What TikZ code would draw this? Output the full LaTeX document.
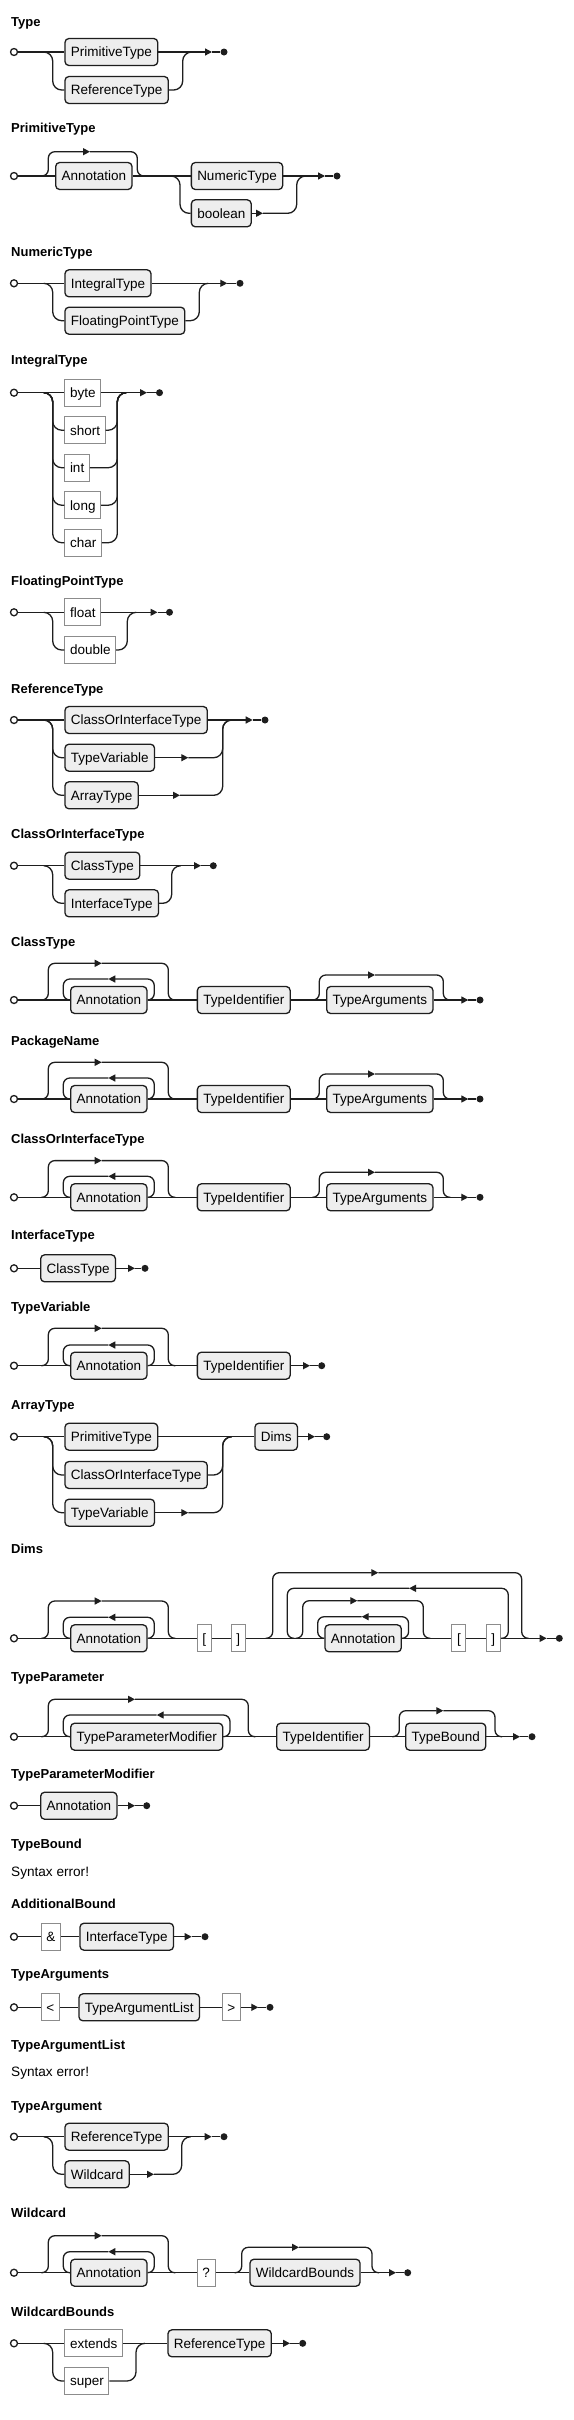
\documentclass[tikz,border=0pt]{standalone}
\usepackage{fontspec}
\setmainfont{Liberation Sans}
\usepackage{xcolor}
\usetikzlibrary{arrows.meta,positioning,calc}
\definecolor{railink}{HTML}{1E1E1E}
\definecolor{ntfill}{HTML}{EEEEEE}
\definecolor{tmedge}{HTML}{8C8C8C}
\tikzset{
  rail/.style={draw=railink,line width=1.3pt},
  alt/.style={rounded corners=9pt},
  loopc/.style={rounded corners=6.5pt},
  arr/.style={-{Triangle[length=7pt,width=7pt]}},
  nonterm/.style={draw=railink,fill=ntfill,line width=1.3pt,rounded corners=4pt,minimum height=27pt,
    inner xsep=5.9pt,inner ysep=0pt,text height=9.8pt,text depth=0pt,font=\fontsize{13.5}{16}\selectfont,anchor=west},
  term/.style={draw=tmedge,fill=white,line width=1pt,minimum height=27pt,
    inner xsep=5.2pt,inner ysep=0pt,text height=9.8pt,text depth=0pt,font=\fontsize{13.5}{16}\selectfont,anchor=west},
  title/.style={anchor=base west,inner sep=0pt,font=\fontsize{13}{16}\selectfont\bfseries},
  errtext/.style={anchor=base west,inner sep=0pt,font=\fontsize{13.6}{16}\selectfont},
  startc/.style={circle,draw=railink,fill=white,line width=1.3pt,minimum size=7pt,inner sep=0pt},
  endc/.style={circle,fill=railink,minimum size=7pt,inner sep=0pt}
}
\begin{document}
\begin{tikzpicture}[x=1pt,y=-1pt]
  \fill[white] (0,0) rectangle (573,2420);
  \useasboundingbox (0,0) rectangle (573,2420);

  \node[title] (type-t) at (11,26) {Type};
  \node[startc] (type-s) at (14,52) {};
  \coordinate (type-f) at (43.7,52);
  \node[nonterm] (type-prim) at (64.3,52) {PrimitiveType};
  \node[nonterm] (type-ref) at (64.3,90) {ReferenceType};
  \coordinate (type-m) at (191.7,52);
  \coordinate (type-a) at (212,52);
  \node[endc] (type-e) at (224,52) {};
  \draw[rail] (type-s) -- (type-prim);
  \draw[rail,arr] (type-prim) -- (type-a);
  \draw[rail] (type-a) -- (type-e);
  \draw[rail,alt] (type-f) -- ++(9,0) |- (type-ref);
  \draw[rail,alt] (type-ref) -| ([xshift=-9pt]type-m) -- (type-m);

  \node[title] (prim-t) at (11,132.7) {PrimitiveType};
  \node[startc] (prim-s) at (14,176) {};
  \coordinate (prim-f1) at (41.3,176);
  \node[nonterm] (prim-ann) at (55,176) {Annotation};
  \coordinate (prim-a1) at (90,151.7);
  \coordinate (prim-m1) at (144.3,176);
  \coordinate (prim-f2) at (171,176);
  \node[nonterm] (prim-num) at (190.7,176) {NumericType};
  \node[nonterm] (prim-bool) at (190.7,213.3) {boolean};
  \coordinate (prim-a2) at (263,213.3);
  \coordinate (prim-m2) at (305.7,176);
  \coordinate (prim-a) at (325,176);
  \node[endc] (prim-e) at (337,176) {};
  \draw[rail] (prim-s) -- (prim-ann);
  \draw[rail] (prim-ann) -- (prim-num);
  \draw[rail,arr] (prim-num) -- (prim-a);
  \draw[rail] (prim-a) -- (prim-e);
  \draw[rail,loopc,arr] (prim-f1) -- ++(7,0) |- (prim-a1);
  \draw[rail,loopc] (prim-a1) -| ([xshift=-7pt]prim-m1) -- (prim-m1);
  \draw[rail,alt] (prim-f2) -- ++(9,0) |- (prim-bool);
  \draw[rail,arr] (prim-bool) -- (prim-a2);
  \draw[rail,alt] (prim-a2) -| ([xshift=-9pt]prim-m2) -- (prim-m2);

  \node[title] (num-t) at (11,256) {NumericType};
  \node[startc] (num-s) at (14,283.3) {};
  \coordinate (num-f) at (43.7,283.3);
  \node[nonterm] (num-int) at (64.3,283.3) {IntegralType};
  \node[nonterm] (num-flt) at (64.3,320.7) {FloatingPointType};
  \coordinate (num-m) at (208.3,283.3);
  \coordinate (num-a) at (227.3,283.3);
  \node[endc] (num-e) at (240,283.3) {};
  \draw[rail] (num-s) -- (num-int);
  \draw[rail,arr] (num-int) -- (num-a);
  \draw[rail] (num-a) -- (num-e);
  \draw[rail,alt] (num-f) -- ++(9,0) |- (num-flt);
  \draw[rail,alt] (num-flt) -| ([xshift=-9pt]num-m) -- (num-m);

  \node[title] (intg-t) at (11,364) {IntegralType};
  \node[startc] (intg-s) at (14,392.7) {};
  \coordinate (intg-f) at (43.7,392.7);
  \node[term] (intg-1) at (64.3,392.7) {byte};
  \coordinate (intg-m) at (126.3,392.7);
  \coordinate (intg-a) at (147,392.7);
  \node[endc] (intg-e) at (159.5,392.7) {};
  \draw[rail] (intg-s) -- (intg-1);
  \draw[rail,arr] (intg-1) -- (intg-a);
  \draw[rail] (intg-a) -- (intg-e);
  \foreach \w/\yy/\k in {short/430.2/2,int/467.7/3,long/505.2/4,char/542.7/5} {
    \node[term] (intg-\k) at (64.3,\yy) {\w};
    \draw[rail,alt] (intg-f) -- ++(9,0) |- (intg-\k);
    \draw[rail,alt] (intg-\k) -| ([xshift=-9pt]intg-m) -- (intg-m);
  }

  \node[title] (flt-t) at (11,585) {FloatingPointType};
  \node[startc] (flt-s) at (14,612.3) {};
  \coordinate (flt-f) at (43.7,612.3);
  \node[term] (flt-1) at (64.3,612.3) {float};
  \node[term] (flt-2) at (64.3,650) {double};
  \coordinate (flt-m) at (136.3,612.3);
  \coordinate (flt-a) at (157.5,612.3);
  \node[endc] (flt-e) at (169.5,612.3) {};
  \draw[rail] (flt-s) -- (flt-1);
  \draw[rail,arr] (flt-1) -- (flt-a);
  \draw[rail] (flt-a) -- (flt-e);
  \draw[rail,alt] (flt-f) -- ++(9,0) |- (flt-2);
  \draw[rail,alt] (flt-2) -| ([xshift=-9pt]flt-m) -- (flt-m);

  \node[title] (ref-t) at (11,693.3) {ReferenceType};
  \node[startc] (ref-s) at (14,720) {};
  \coordinate (ref-f) at (43.7,720);
  \node[nonterm] (ref-coi) at (64.3,720) {ClassOrInterfaceType};
  \node[nonterm] (ref-tv) at (64.3,757.7) {TypeVariable};
  \node[nonterm] (ref-at) at (64.3,795.3) {ArrayType};
  \coordinate (ref-a2) at (188.3,757.7);
  \coordinate (ref-a3) at (180,795.3);
  \coordinate (ref-m) at (231.7,720);
  \coordinate (ref-a) at (252.7,720);
  \node[endc] (ref-e) at (265,720) {};
  \draw[rail] (ref-s) -- (ref-coi);
  \draw[rail,arr] (ref-coi) -- (ref-a);
  \draw[rail] (ref-a) -- (ref-e);
  \draw[rail,alt] (ref-f) -- ++(9,0) |- (ref-tv);
  \draw[rail,alt] (ref-f) -- ++(9,0) |- (ref-at);
  \draw[rail,arr] (ref-tv) -- (ref-a2);
  \draw[rail,arr] (ref-at) -- (ref-a3);
  \draw[rail,alt] (ref-a2) -| ([xshift=-9pt]ref-m) -- (ref-m);
  \draw[rail,alt] (ref-a3) -| ([xshift=-9pt]ref-m) -- (ref-m);

  \node[title] (coi-t) at (11,838.3) {ClassOrInterfaceType};
  \node[startc] (coi-s) at (14,865.7) {};
  \coordinate (coi-f) at (43.7,865.7);
  \node[nonterm] (coi-ct) at (64.3,865.7) {ClassType};
  \node[nonterm] (coi-it) at (64.3,903.3) {InterfaceType};
  \coordinate (coi-m) at (180.7,865.7);
  \coordinate (coi-a) at (201,865.7);
  \node[endc] (coi-e) at (213.3,865.7) {};
  \draw[rail] (coi-s) -- (coi-ct);
  \draw[rail,arr] (coi-ct) -- (coi-a);
  \draw[rail] (coi-a) -- (coi-e);
  \draw[rail,alt] (coi-f) -- ++(9,0) |- (coi-it);
  \draw[rail,alt] (coi-it) -| ([xshift=-9pt]coi-m) -- (coi-m);

  \foreach \k/\yy/\nm in {ct/1000/ClassType,pn/1099/PackageName,cn/1197.3/ClassOrInterfaceType} {
    \node[title] (\k-t) at (11,{\yy-54}) {\nm};
    \node[startc] (\k-s) at (14,\yy) {};
    \coordinate (\k-f1) at (41.3,\yy);
    \node[nonterm] (\k-ann) at (70,\yy) {Annotation};
    \coordinate (\k-a1) at (101.7,{\yy-36.7});
    \coordinate (\k-a2) at (108.3,{\yy-21});
    \coordinate (\k-m1) at (175.3,\yy);
    \node[nonterm] (\k-tid) at (196.7,\yy) {TypeIdentifier};
    \coordinate (\k-f2) at (312.3,\yy);
    \node[nonterm] (\k-targ) at (326,\yy) {TypeArguments};
    \coordinate (\k-a3) at (375,{\yy-25});
    \coordinate (\k-m2) at (450.3,\yy);
    \coordinate (\k-a) at (468.3,\yy);
    \node[endc] (\k-e) at (480,\yy) {};
    \draw[rail] (\k-s) -- (\k-ann);
    \draw[rail] (\k-ann) -- (\k-tid);
    \draw[rail] (\k-tid) -- (\k-targ);
    \draw[rail,arr] (\k-targ) -- (\k-a);
    \draw[rail] (\k-a) -- (\k-e);
    \draw[rail,loopc,arr] (\k-f1) -- ++(7,0) |- (\k-a1);
    \draw[rail,loopc] (\k-a1) -| ([xshift=-7pt]\k-m1) -- (\k-m1);
    \draw[rail,loopc,arr] (\k-ann.east) -- ++(6.6,0) |- (\k-a2);
    \draw[rail,loopc] (\k-a2) -| ([xshift=-6.7pt]\k-ann.west) -- (\k-ann.west);
    \draw[rail,loopc,arr] (\k-f2) -- ++(7,0) |- (\k-a3);
    \draw[rail,loopc] (\k-a3) -| ([xshift=-7pt]\k-m2) -- (\k-m2);
  }

  \node[title] (ift-t) at (11,1239.5) {InterfaceType};
  \node[startc] (ift-s) at (14,1268.3) {};
  \node[nonterm] (ift-ct) at (40,1268.3) {ClassType};
  \coordinate (ift-a) at (135,1268.3);
  \node[endc] (ift-e) at (145,1268.3) {};
  \draw[rail] (ift-s) -- (ift-ct);
  \draw[rail,arr] (ift-ct) -- (ift-a);
  \draw[rail] (ift-a) -- (ift-e);

  \node[title] (tv-t) at (11,1311) {TypeVariable};
  \node[startc] (tv-s) at (14,1365.7) {};
  \coordinate (tv-f1) at (41.3,1365.7);
  \node[nonterm] (tv-ann) at (70,1365.7) {Annotation};
  \coordinate (tv-a1) at (101.7,1328.3);
  \coordinate (tv-a2) at (108.3,1345);
  \coordinate (tv-m1) at (175.3,1365.7);
  \node[nonterm] (tv-tid) at (196.7,1365.7) {TypeIdentifier};
  \coordinate (tv-a) at (310,1365.7);
  \node[endc] (tv-e) at (321.7,1365.7) {};
  \draw[rail] (tv-s) -- (tv-ann);
  \draw[rail] (tv-ann) -- (tv-tid);
  \draw[rail,arr] (tv-tid) -- (tv-a);
  \draw[rail] (tv-a) -- (tv-e);
  \draw[rail,loopc,arr] (tv-f1) -- ++(7,0) |- (tv-a1);
  \draw[rail,loopc] (tv-a1) -| ([xshift=-7pt]tv-m1) -- (tv-m1);
  \draw[rail,loopc,arr] (tv-ann.east) -- ++(6.6,0) |- (tv-a2);
  \draw[rail,loopc] (tv-a2) -| ([xshift=-6.7pt]tv-ann.west) -- (tv-ann.west);

  \node[title] (arr-t) at (11,1409.3) {ArrayType};
  \node[startc] (arr-s) at (14,1436.7) {};
  \coordinate (arr-f) at (43.7,1436.7);
  \node[nonterm] (arr-pt) at (64.3,1436.7) {PrimitiveType};
  \node[nonterm] (arr-coi) at (64.3,1475) {ClassOrInterfaceType};
  \node[nonterm] (arr-tv) at (64.3,1512.7) {TypeVariable};
  \coordinate (arr-a3) at (188.3,1512.7);
  \coordinate (arr-m) at (231.7,1436.7);
  \node[nonterm] (arr-dims) at (254.3,1436.7) {Dims};
  \coordinate (arr-a) at (315,1436.7);
  \node[endc] (arr-e) at (326.7,1436.7) {};
  \draw[rail] (arr-s) -- (arr-pt);
  \draw[rail] (arr-pt) -- (arr-dims);
  \draw[rail,arr] (arr-dims) -- (arr-a);
  \draw[rail] (arr-a) -- (arr-e);
  \draw[rail,alt] (arr-f) -- ++(9,0) |- (arr-coi);
  \draw[rail,alt] (arr-f) -- ++(9,0) |- (arr-tv);
  \draw[rail,alt] (arr-coi) -| ([xshift=-9pt]arr-m) -- (arr-m);
  \draw[rail,arr] (arr-tv) -- (arr-a3);
  \draw[rail,alt] (arr-a3) -| ([xshift=-9pt]arr-m) -- (arr-m);

  \node[title] (dims-t) at (11,1553.3) {Dims};
  \node[startc] (dims-s) at (14,1638.3) {};
  \coordinate (dims-f1) at (41.3,1638.3);
  \node[nonterm] (dims-ann1) at (70,1638.3) {Annotation};
  \coordinate (dims-a1) at (101.7,1601);
  \coordinate (dims-a2) at (108.3,1617.3);
  \coordinate (dims-m1) at (175.3,1638.3);
  \node[term] (dims-lb1) at (196.7,1638.3) {[};
  \node[term] (dims-rb1) at (230.7,1638.3) {]};
  \coordinate (dims-f3) at (265.7,1638.3);
  \coordinate (dims-a3) at (378.3,1572.7);
  \coordinate (dims-j4) at (294.3,1638.3);
  \coordinate (dims-a4) at (409,1588.3);
  \coordinate (dims-f5) at (295.7,1638.3);
  \coordinate (dims-a5) at (357.3,1600.7);
  \node[nonterm] (dims-ann2) at (324.3,1638.3) {Annotation};
  \coordinate (dims-a6) at (361.7,1616.7);
  \coordinate (dims-m5) at (430.3,1638.3);
  \node[term] (dims-lb2) at (451.3,1638.3) {[};
  \node[term] (dims-rb2) at (485.7,1638.3) {]};
  \coordinate (dims-m3) at (528.7,1638.3);
  \coordinate (dims-a) at (546.7,1638.3);
  \node[endc] (dims-e) at (559.3,1638.3) {};
  \draw[rail] (dims-s) -- (dims-ann1);
  \draw[rail] (dims-ann1) -- (dims-lb1);
  \draw[rail] (dims-lb1) -- (dims-rb1);
  \draw[rail] (dims-rb1) -- (dims-ann2);
  \draw[rail] (dims-ann2) -- (dims-lb2);
  \draw[rail] (dims-lb2) -- (dims-rb2);
  \draw[rail,arr] (dims-rb2) -- (dims-a);
  \draw[rail] (dims-a) -- (dims-e);
  \draw[rail,loopc,arr] (dims-f1) -- ++(7,0) |- (dims-a1);
  \draw[rail,loopc] (dims-a1) -| ([xshift=-7pt]dims-m1) -- (dims-m1);
  \draw[rail,loopc,arr] (dims-ann1.east) -- ++(6.6,0) |- (dims-a2);
  \draw[rail,loopc] (dims-a2) -| ([xshift=-6.7pt]dims-ann1.west) -- (dims-ann1.west);
  \draw[rail,loopc,arr] (dims-f3) -- ++(7,0) |- (dims-a3);
  \draw[rail,loopc] (dims-a3) -| ([xshift=-7pt]dims-m3) -- (dims-m3);
  \draw[rail,loopc,arr] (dims-rb2.east) -- ++(7.4,0) |- (dims-a4);
  \draw[rail,loopc] (dims-a4) -| ([xshift=-7pt]dims-j4) -- (dims-j4);
  \draw[rail,loopc,arr] (dims-f5) -- ++(7,0) |- (dims-a5);
  \draw[rail,loopc] (dims-a5) -| ([xshift=-7pt]dims-m5) -- (dims-m5);
  \draw[rail,loopc,arr] (dims-ann2.east) -- ++(6.6,0) |- (dims-a6);
  \draw[rail,loopc] (dims-a6) -| ([xshift=-6.6pt]dims-ann2.west) -- (dims-ann2.west);

  \node[title] (tp-t) at (11,1681.7) {TypeParameter};
  \node[startc] (tp-s) at (14,1736.7) {};
  \coordinate (tp-f1) at (41.3,1736.7);
  \node[nonterm] (tp-mod) at (70,1736.7) {TypeParameterModifier};
  \coordinate (tp-a1) at (135,1699.3);
  \coordinate (tp-a2) at (156.7,1715);
  \coordinate (tp-m1) at (255.3,1736.7);
  \node[nonterm] (tp-tid) at (276,1736.7) {TypeIdentifier};
  \coordinate (tp-f2) at (392.3,1736.7);
  \node[nonterm] (tp-tb) at (405,1736.7) {TypeBound};
  \coordinate (tp-a3) at (443.3,1710.7);
  \coordinate (tp-m2) at (502,1736.7);
  \coordinate (tp-a) at (520,1736.7);
  \node[endc] (tp-e) at (532,1736.7) {};
  \draw[rail] (tp-s) -- (tp-mod);
  \draw[rail] (tp-mod) -- (tp-tid);
  \draw[rail] (tp-tid) -- (tp-tb);
  \draw[rail,arr] (tp-tb) -- (tp-a);
  \draw[rail] (tp-a) -- (tp-e);
  \draw[rail,loopc,arr] (tp-f1) -- ++(7,0) |- (tp-a1);
  \draw[rail,loopc] (tp-a1) -| ([xshift=-7pt]tp-m1) -- (tp-m1);
  \draw[rail,loopc,arr] (tp-mod.east) -- ++(6.6,0) |- (tp-a2);
  \draw[rail,loopc] (tp-a2) -| ([xshift=-6.7pt]tp-mod.west) -- (tp-mod.west);
  \draw[rail,loopc,arr] (tp-f2) -- ++(7,0) |- (tp-a3);
  \draw[rail,loopc] (tp-a3) -| ([xshift=-7pt]tp-m2) -- (tp-m2);

  \node[title] (tpm-t) at (11,1778.3) {TypeParameterModifier};
  \node[startc] (tpm-s) at (14,1805.7) {};
  \node[nonterm] (tpm-ann) at (40,1805.7) {Annotation};
  \coordinate (tpm-a) at (135,1805.7);
  \node[endc] (tpm-e) at (146.7,1805.7) {};
  \draw[rail] (tpm-s) -- (tpm-ann);
  \draw[rail,arr] (tpm-ann) -- (tpm-a);
  \draw[rail] (tpm-a) -- (tpm-e);

  \node[title] (tb-t) at (11,1848.3) {TypeBound};
  \node[errtext] (tb-err) at (11,1876.7) {Syntax error!};

  \node[title] (ab-t) at (11,1908.3) {AdditionalBound};
  \node[startc] (ab-s) at (14,1936.7) {};
  \node[term] (ab-amp) at (40.7,1936.7) {\&};
  \node[nonterm] (ab-it) at (79.3,1936.7) {InterfaceType};
  \coordinate (ab-a) at (191.7,1936.7);
  \node[endc] (ab-e) at (205,1936.7) {};
  \draw[rail] (ab-s) -- (ab-amp);
  \draw[rail] (ab-amp) -- (ab-it);
  \draw[rail,arr] (ab-it) -- (ab-a);
  \draw[rail] (ab-a) -- (ab-e);

  \node[title] (ta-t) at (11,1978.3) {TypeArguments};
  \node[startc] (ta-s) at (14,2007.3) {};
  \node[term] (ta-lt) at (40.7,2007.3) {<};
  \node[nonterm] (ta-list) at (78.3,2007.3) {TypeArgumentList};
  \node[term] (ta-gt) at (221.7,2007.3) {>};
  \coordinate (ta-a) at (258.3,2007.3);
  \node[endc] (ta-e) at (270,2007.3) {};
  \draw[rail] (ta-s) -- (ta-lt);
  \draw[rail] (ta-lt) -- (ta-list);
  \draw[rail] (ta-list) -- (ta-gt);
  \draw[rail,arr] (ta-gt) -- (ta-a);
  \draw[rail] (ta-a) -- (ta-e);

  \node[title] (tal-t) at (11,2049.3) {TypeArgumentList};
  \node[errtext] (tal-err) at (11,2076.7) {Syntax error!};

  \node[title] (targ-t) at (11,2110) {TypeArgument};
  \node[startc] (targ-s) at (14,2136.7) {};
  \coordinate (targ-f) at (43.7,2136.7);
  \node[nonterm] (targ-ref) at (64.3,2136.7) {ReferenceType};
  \node[nonterm] (targ-wc) at (64.3,2174.3) {Wildcard};
  \coordinate (targ-a2) at (154,2174.3);
  \coordinate (targ-m) at (190.7,2136.7);
  \coordinate (targ-a) at (211.7,2136.7);
  \node[endc] (targ-e) at (224,2136.7) {};
  \draw[rail] (targ-s) -- (targ-ref);
  \draw[rail,arr] (targ-ref) -- (targ-a);
  \draw[rail] (targ-a) -- (targ-e);
  \draw[rail,alt] (targ-f) -- ++(9,0) |- (targ-wc);
  \draw[rail,arr] (targ-wc) -- (targ-a2);
  \draw[rail,alt] (targ-a2) -| ([xshift=-9pt]targ-m) -- (targ-m);

  \node[title] (wc-t) at (11,2217.7) {Wildcard};
  \node[startc] (wc-s) at (14,2272.7) {};
  \coordinate (wc-f1) at (41.3,2272.7);
  \node[nonterm] (wc-ann) at (70,2272.7) {Annotation};
  \coordinate (wc-a1) at (101.7,2235.7);
  \coordinate (wc-a2) at (108.3,2251.7);
  \coordinate (wc-m1) at (175.3,2272.7);
  \node[term] (wc-q) at (196.7,2272.7) {?};
  \coordinate (wc-f2) at (234.7,2272.7);
  \node[nonterm] (wc-wb) at (249.3,2272.7) {WildcardBounds};
  \coordinate (wc-a3) at (299,2247.3);
  \coordinate (wc-m2) at (379,2272.7);
  \coordinate (wc-a) at (396,2272.7);
  \node[endc] (wc-e) at (407.7,2272.7) {};
  \draw[rail] (wc-s) -- (wc-ann);
  \draw[rail] (wc-ann) -- (wc-q);
  \draw[rail] (wc-q) -- (wc-wb);
  \draw[rail,arr] (wc-wb) -- (wc-a);
  \draw[rail] (wc-a) -- (wc-e);
  \draw[rail,loopc,arr] (wc-f1) -- ++(7,0) |- (wc-a1);
  \draw[rail,loopc] (wc-a1) -| ([xshift=-7pt]wc-m1) -- (wc-m1);
  \draw[rail,loopc,arr] (wc-ann.east) -- ++(6.6,0) |- (wc-a2);
  \draw[rail,loopc] (wc-a2) -| ([xshift=-6.7pt]wc-ann.west) -- (wc-ann.west);
  \draw[rail,loopc,arr] (wc-f2) -- ++(7,0) |- (wc-a3);
  \draw[rail,loopc] (wc-a3) -| ([xshift=-7pt]wc-m2) -- (wc-m2);

  \node[title] (wb-t) at (11,2316) {WildcardBounds};
  \node[startc] (wb-s) at (14,2343.3) {};
  \coordinate (wb-f) at (43.7,2343.3);
  \node[term] (wb-ext) at (64.3,2343.3) {extends};
  \node[term] (wb-sup) at (64.3,2381) {super};
  \coordinate (wb-m) at (145,2343.3);
  \node[nonterm] (wb-ref) at (167.3,2343.3) {ReferenceType};
  \coordinate (wb-a) at (290,2343.3);
  \node[endc] (wb-e) at (302.7,2343.3) {};
  \draw[rail] (wb-s) -- (wb-ext);
  \draw[rail] (wb-ext) -- (wb-ref);
  \draw[rail,arr] (wb-ref) -- (wb-a);
  \draw[rail] (wb-a) -- (wb-e);
  \draw[rail,alt] (wb-f) -- ++(9,0) |- (wb-sup);
  \draw[rail,alt] (wb-sup) -| ([xshift=-9pt]wb-m) -- (wb-m);
\end{tikzpicture}
\end{document}
